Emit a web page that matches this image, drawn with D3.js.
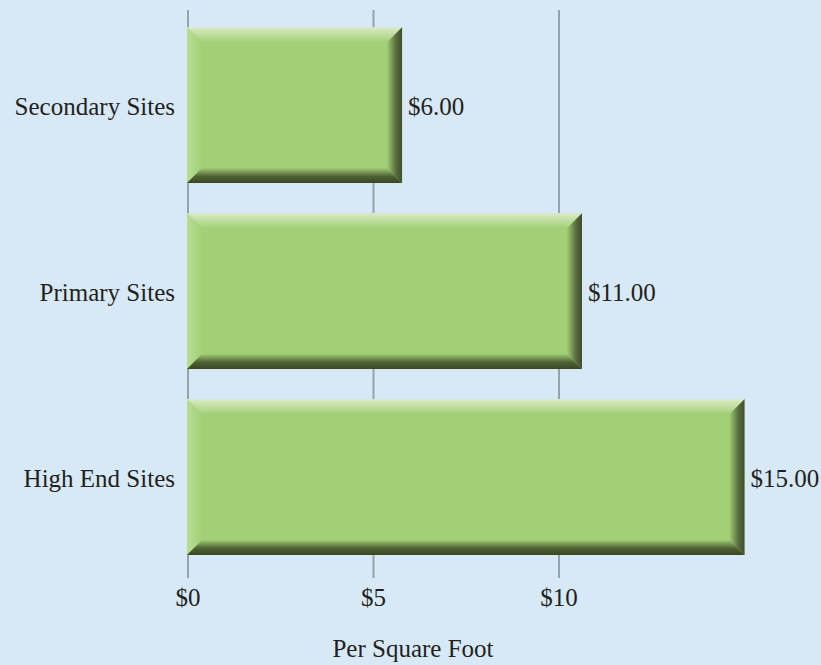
<!DOCTYPE html>
<html><head><meta charset="utf-8">
<script src="https://cdn.jsdelivr.net/npm/d3@7"></script>
<style>html,body{margin:0;padding:0;background:#d7e9f7;}svg{display:block;}</style>
</head><body>
<script>
const categories = ["Secondary Sites", "Primary Sites", "High End Sites"];
const values = [5.77, 10.62, 15.0];
const valueLabels = ["$6.00", "$11.00", "$15.00"];
const tickValues = [0, 5, 10];
const tickLabels = ["$0", "$5", "$10"];
const axisTitle = "Per Square Foot";

const W = 821, H = 665;
const svg = d3.select("body").append("svg").attr("width", W).attr("height", H);
svg.append("rect").attr("width", W).attr("height", H).attr("fill", "#d7e9f7");

const x = d3.scaleLinear().domain([0, 10]).range([188, 559]);
const y = d3.scaleBand().domain(categories).range([27, 555]).paddingInner(0.161).paddingOuter(0);

const font = "'Liberation Serif', 'DejaVu Serif', serif";
const txt = "#231f20";
const fs = 25;

// gridlines
svg.append("g").selectAll("line").data(tickValues).join("line")
  .attr("x1", d => x(d)).attr("x2", d => x(d))
  .attr("y1", 10).attr("y2", 578)
  .attr("stroke", "#97a2aa").attr("stroke-width", 2);

// gradients
const defs = svg.append("defs");
function grad(id, x1, y1, x2, y2, stops) {
  const g = defs.append("linearGradient").attr("id", id)
    .attr("x1", x1).attr("y1", y1).attr("x2", x2).attr("y2", y2);
  stops.forEach(s => g.append("stop").attr("offset", s[0]).attr("stop-color", s[1]));
}
grad("gTop", 0, 0, 0, 1, [[0, "#d9ebc4"], [0.5, "#c0df9f"], [1, "#a4d079"]]);
grad("gLeft", 0, 0, 1, 0, [[0, "#b9dc95"], [1, "#a3d077"]]);
grad("gRight", 1, 0, 0, 0, [[0, "#3f4e2c"], [0.4, "#586c3e"], [1, "#a0cb74"]]);
grad("gBot", 0, 1, 0, 0, [[0, "#3a4627"], [0.45, "#4f6136"], [1, "#a0cb74"]]);

const b = 15;
const bars = svg.append("g").selectAll("g").data(categories).join("g");
bars.each(function(c, i) {
  const g = d3.select(this);
  const x0 = x(0) - 1, x1 = x(values[i]), y0 = y(c), y1 = y(c) + y.bandwidth();
  g.append("rect").attr("x", x0).attr("y", y0).attr("width", x1 - x0).attr("height", y1 - y0).attr("fill", "#a3d077");
  const poly = (pts, fill) => g.append("polygon").attr("points", pts.map(p => p.join(",")).join(" ")).attr("fill", fill);
  poly([[x0, y0], [x0 + b, y0 + b], [x0 + b, y1 - b], [x0, y1]], "url(#gLeft)");
  poly([[x1, y0], [x1, y1], [x1 - b, y1 - b], [x1 - b, y0 + b]], "url(#gRight)");
  poly([[x0, y1], [x0 + b, y1 - b], [x1 - b, y1 - b], [x1, y1]], "url(#gBot)");
  poly([[x0, y0], [x1, y0], [x1 - b, y0 + b], [x0 + b, y0 + b]], "url(#gTop)");
  g.append("text").attr("x", x1 + 6).attr("y", (y0 + y1) / 2 + 10)
    .attr("font-family", font).attr("font-size", fs).attr("fill", txt).text(valueLabels[i]);
});

// category labels
svg.append("g").selectAll("text").data(categories).join("text")
  .attr("x", 175).attr("y", d => y(d) + y.bandwidth() / 2 + 10)
  .attr("text-anchor", "end").attr("font-family", font).attr("font-size", fs).attr("fill", txt)
  .text(d => d);

// tick labels
svg.append("g").selectAll("text").data(tickValues).join("text")
  .attr("x", d => x(d)).attr("y", 606)
  .attr("text-anchor", "middle").attr("font-family", font).attr("font-size", fs).attr("fill", txt)
  .text((d, i) => tickLabels[i]);

svg.append("text").attr("x", 413).attr("y", 657).attr("text-anchor", "middle")
  .attr("font-family", font).attr("font-size", fs).attr("fill", txt).text(axisTitle);
</script>
</body></html>
